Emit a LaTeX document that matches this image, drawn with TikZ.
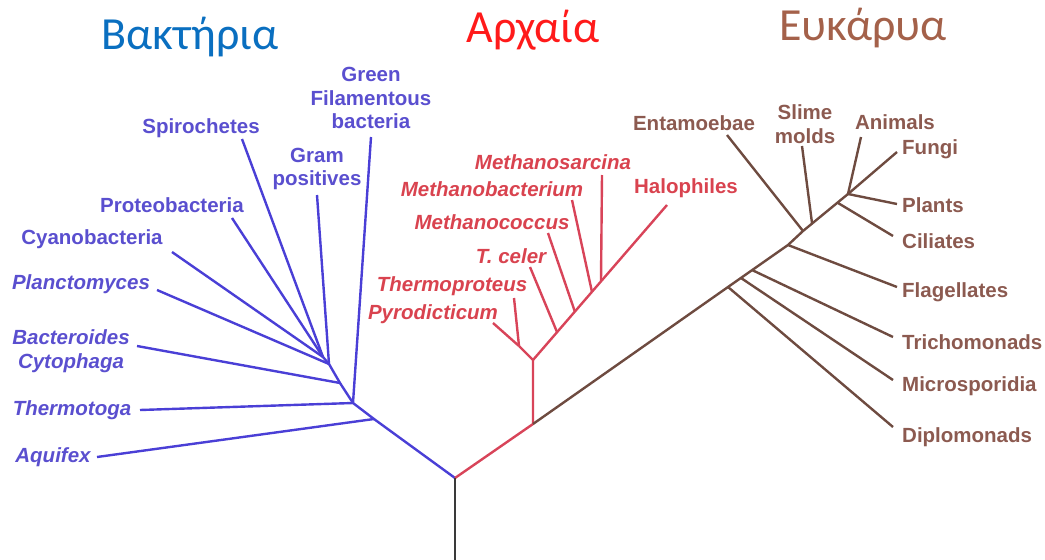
\documentclass[tikz,border=0pt]{standalone}
\usepackage{fontspec}
\setmainfont{Liberation Sans}
\newfontfamily\titlefont{Carlito}
\usepackage{tikz}
\usetikzlibrary{positioning}
\definecolor{BactTitle}{HTML}{0A6FC0}
\definecolor{ArchTitle}{HTML}{FF1A1A}
\definecolor{EukTitle}{HTML}{A4614A}
\definecolor{BactLine}{HTML}{4A3FD6}
\definecolor{BactText}{HTML}{5A4FCF}
\definecolor{ArchLine}{HTML}{D84459}
\definecolor{ArchText}{HTML}{D9434F}
\definecolor{EukLine}{HTML}{6E4B40}
\definecolor{EukText}{HTML}{8C5A50}
\definecolor{RootLine}{HTML}{3A3A3A}

\begin{document}
\begin{tikzpicture}[x=1pt,y=-1pt]
  \path[use as bounding box] (0,0) rectangle (1045,560);

  \tikzset{
    treeTitle/.style={
      inner sep=0pt,
      font=\titlefont\fontsize{46}{52}\selectfont
    },
    taxon/.style={
      inner sep=0pt,
      align=center,
      font=\bfseries\fontsize{20.5}{23.5}\selectfont
    },
    taxonIt/.style={
      taxon,
      font=\bfseries\itshape\fontsize{20.5}{23.5}\selectfont
    },
    bactLabel/.style={taxon,text=BactText},
    bactLabelIt/.style={taxonIt,text=BactText},
    archLabelIt/.style={taxonIt,text=ArchText},
    archLabel/.style={taxon,text=ArchText},
    eukLabel/.style={taxon,text=EukText},
    bactEdge/.style={draw=BactLine,line width=2.4pt,line join=round},
    archEdge/.style={draw=ArchLine,line width=2.4pt,line join=round},
    eukEdge/.style={draw=EukLine,line width=2.4pt,line join=round},
    rootEdge/.style={draw=RootLine,line width=2.8pt}
  }

  % domain titles
  \node[treeTitle,text=BactTitle] (titleBact) at (190,37) {Βακτήρια};
  \node[treeTitle,text=ArchTitle] (titleArch) at (533,30) {Αρχαία};
  \node[treeTitle,text=EukTitle] (titleEuk) at (863,28) {Ευκάρυα};

  % root and branch points
  \coordinate (root) at (455,478);
  \coordinate (rootEnd) at (455,560);
  \coordinate (bAqu) at (374,419);
  \coordinate (bThe) at (353,403);
  \coordinate (bBac) at (340,383);
  \coordinate (bPla) at (329,364);
  \coordinate (bCya) at (323,357);
  \coordinate (aBase) at (533,424);
  \coordinate (aTop) at (533,360);
  \coordinate (aPyr) at (519,346);
  \coordinate (aTce) at (557,332);
  \coordinate (aMco) at (575,312);
  \coordinate (aMba) at (592,292);
  \coordinate (aMsa) at (601,281);
  \coordinate (eDip) at (728,287);
  \coordinate (eMic) at (741,278);
  \coordinate (eTri) at (752,270);
  \coordinate (eFla) at (788,245);
  \coordinate (eEnt) at (803,231);
  \coordinate (eSli) at (812,223);
  \coordinate (eCil) at (838,203);
  \coordinate (eTop) at (848,194);

  % leaf ends
  \coordinate (tAqu) at (97,457);
  \coordinate (tThe) at (140,410);
  \coordinate (tGre) at (371,137);
  \coordinate (tBac) at (137,346);
  \coordinate (tPla) at (157,290);
  \coordinate (tGra) at (317,195);
  \coordinate (tCya) at (172,252);
  \coordinate (tPro) at (232,218);
  \coordinate (tSpi) at (242,139);
  \coordinate (tPyr) at (493,323);
  \coordinate (tThp) at (514,298);
  \coordinate (tTce) at (530,267);
  \coordinate (tMco) at (548,233);
  \coordinate (tMba) at (572,200);
  \coordinate (tMsa) at (602,175);
  \coordinate (tHal) at (667,205);
  \coordinate (tEnt) at (727,135);
  \coordinate (tSli) at (802,146);
  \coordinate (tAni) at (861,137);
  \coordinate (tFun) at (897,152);
  \coordinate (tPlt) at (897,204);
  \coordinate (tCil) at (893,236);
  \coordinate (tFla) at (897,287);
  \coordinate (tTri) at (893,337);
  \coordinate (tMic) at (893,380);
  \coordinate (tDip) at (893,427);

  % bacteria
  \node[bactLabel] (green) at (371,98) {Green\\Filamentous\\bacteria};
  \node[bactLabel] (spiro) at (201,128) {Spirochetes};
  \node[bactLabel] (gram) at (317,169) {Gram\\positives};
  \node[bactLabel] (proteo) at (172,205) {Proteobacteria};
  \node[bactLabel] (cyano) at (92,239) {Cyanobacteria};
  \node[bactLabelIt] (plancto) at (81,284) {Planctomyces};
  \node[bactLabelIt] (bactero) at (71,351) {Bacteroides\\Cytophaga};
  \node[bactLabelIt] (thermo) at (72,410) {Thermotoga};
  \node[bactLabelIt] (aquifex) at (53,457) {Aquifex};

  \draw[bactEdge] (root) -- (bAqu) -- (bThe) -- (bBac) -- (bPla) -- (bCya);
  \draw[bactEdge] (bAqu) -- (tAqu);
  \draw[bactEdge] (bThe) -- (tThe);
  \draw[bactEdge] (bThe) -- (tGre);
  \draw[bactEdge] (bBac) -- (tBac);
  \draw[bactEdge] (bPla) -- (tPla);
  \draw[bactEdge] (bPla) -- (tGra);
  \draw[bactEdge] (bCya) -- (tCya);
  \draw[bactEdge] (bCya) -- (tPro);
  \draw[bactEdge] (bCya) -- (tSpi);

  % archaea
  \node[archLabelIt] (msarc) at (553,162) {Methanosarcina};
  \node[archLabelIt] (mbact) at (492,189) {Methanobacterium};
  \node[archLabelIt] (mcocc) at (492,222) {Methanococcus};
  \node[archLabelIt] (tceler) at (511,256) {T. celer};
  \node[archLabelIt] (thprot) at (452,286) {Thermoproteus};
  \node[archLabelIt] (pyrod) at (433,314) {Pyrodicticum};
  \node[archLabel] (halo) at (686,188) {Halophiles};

  \draw[archEdge] (root) -- (aBase) -- (aTop) -- (aPyr);
  \draw[archEdge] (aPyr) -- (tPyr);
  \draw[archEdge] (aPyr) -- (tThp);
  \draw[archEdge] (aTop) -- (tHal);
  \draw[archEdge] (aTce) -- (tTce);
  \draw[archEdge] (aMco) -- (tMco);
  \draw[archEdge] (aMba) -- (tMba);
  \draw[archEdge] (aMsa) -- (tMsa);

  % eukarya
  \node[eukLabel] (entam) at (694,123) {Entamoebae};
  \node[eukLabel] (slime) at (805,124) {Slime\\molds};
  \node[eukLabel] (animals) at (895,122) {Animals};
  \node[eukLabel,anchor=west] (fungi) at (902,149) {Fungi};
  \node[eukLabel,anchor=west] (plants) at (902,205) {Plants};
  \node[eukLabel,anchor=west] (cili) at (902,241) {Ciliates};
  \node[eukLabel,anchor=west] (flag) at (902,292) {Flagellates};
  \node[eukLabel,anchor=west] (trich) at (902,342) {Trichomonads};
  \node[eukLabel,anchor=west] (micro) at (902,386) {Microsporidia};
  \node[eukLabel,anchor=west] (diplo) at (902,437) {Diplomonads};

  \draw[eukEdge] (aBase) -- (eDip) -- (eFla) -- (eEnt) -- (eTop);
  \draw[eukEdge] (eDip) -- (tDip);
  \draw[eukEdge] (eMic) -- (tMic);
  \draw[eukEdge] (eTri) -- (tTri);
  \draw[eukEdge] (eFla) -- (tFla);
  \draw[eukEdge] (eEnt) -- (tEnt);
  \draw[eukEdge] (eSli) -- (tSli);
  \draw[eukEdge] (eCil) -- (tCil);
  \draw[eukEdge] (eTop) -- (tAni);
  \draw[eukEdge] (eTop) -- (tFun);
  \draw[eukEdge] (eTop) -- (tPlt);

  % root stem
  \draw[rootEdge] (root) -- (rootEnd);
\end{tikzpicture}
\end{document}
